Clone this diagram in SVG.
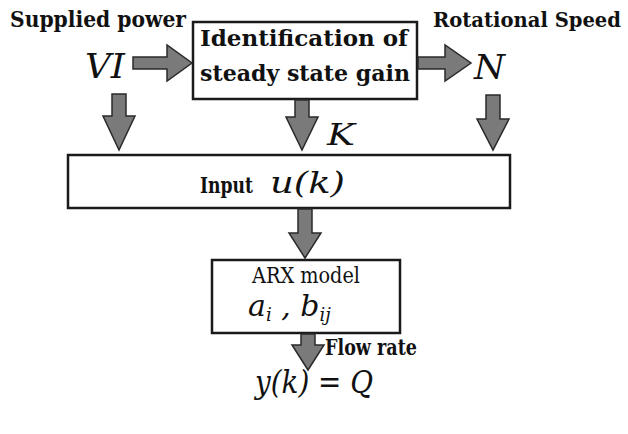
<svg xmlns="http://www.w3.org/2000/svg" width="628" height="434" viewBox="0 0 628 434">
<style>
.box{fill:#fff;stroke:#1a1a1a;stroke-width:2.5}
.arr{fill:#7a7a7a;stroke:#2a2a2a;stroke-width:1.5;stroke-linejoin:miter}
text{font-family:'DejaVu Serif',serif;fill:#111}
.lb{font-weight:bold;font-size:22px}
.m{font-style:italic}
</style>
<rect width="628" height="434" fill="#fff"/>
<g id="labels">
<text class="lb" x="10" y="27" textLength="176" lengthAdjust="spacingAndGlyphs">Supplied power</text>
<text class="m" x="85" y="78" font-size="34" textLength="40" lengthAdjust="spacingAndGlyphs">VI</text>
<text class="lb" x="433" y="27" style="font-size:20px" textLength="188" lengthAdjust="spacingAndGlyphs">Rotational Speed</text>
<text class="m" x="474" y="79" font-size="34" textLength="31" lengthAdjust="spacingAndGlyphs">N</text>
<text class="m" x="327" y="145" font-size="30" textLength="28" lengthAdjust="spacingAndGlyphs">K</text>
<text class="lb" x="325" y="355" textLength="92" lengthAdjust="spacingAndGlyphs">Flow rate</text>
<text class="m" x="255" y="393" font-size="32" textLength="118" lengthAdjust="spacingAndGlyphs">y(k) = Q</text>
</g>
<g id="gain">
<rect class="box" x="193" y="22" width="224" height="77"/>
<text class="lb" x="200" y="46" textLength="208" lengthAdjust="spacingAndGlyphs">Identification of</text>
<text class="lb" x="200" y="81" textLength="210" lengthAdjust="spacingAndGlyphs">steady state gain</text>
</g>
<g id="input">
<rect class="box" x="68" y="155" width="442" height="53"/>
<text class="lb" x="200" y="193" textLength="53" lengthAdjust="spacingAndGlyphs">Input</text>
<text class="m" x="270" y="193" font-size="30" textLength="75" lengthAdjust="spacingAndGlyphs">u(k)</text>
</g>
<g id="arx">
<rect class="box" x="212" y="260" width="188" height="73"/>
<text x="252" y="283" font-size="22" textLength="108" lengthAdjust="spacingAndGlyphs">ARX model</text>
<text class="m" x="248" y="316" font-size="30">a<tspan font-size="18" dy="5">i</tspan><tspan dy="-5"> , b</tspan><tspan font-size="18" dy="5">ij</tspan></text>
</g>
<g id="connectors">
<polygon class="arr" points="133,57 167,57 167,45 192,63 167,81 167,69 133,69"/>
<polygon class="arr" points="418,57 445,57 445,45 471,63 445,81 445,69 418,69"/>
<polygon class="arr" points="112,94 126,94 126,116 135,116 119,150 103,116 112,116"/>
<polygon class="arr" points="295,100 309,100 309,117 318,117 302,150 286,117 295,117"/>
<polygon class="arr" points="486,95 500,95 500,119 509,119 493,150 477,119 486,119"/>
<polygon class="arr" points="298,209 312,209 312,233 321,233 305,258 289,233 298,233"/>
<polygon class="arr" points="301,334 315,334 315,345 324,345 308,370 292,345 301,345"/>
</g>
</svg>
